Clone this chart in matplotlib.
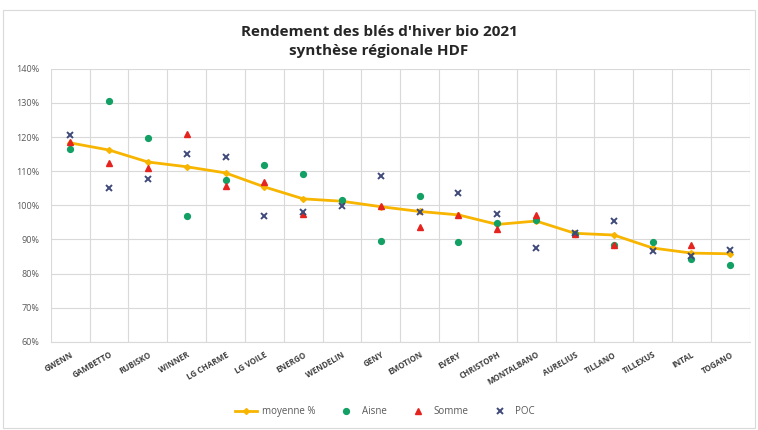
import numpy as np
import matplotlib
matplotlib.use("Agg")
import matplotlib.pyplot as plt
from matplotlib.patches import Rectangle
from matplotlib.ticker import FuncFormatter, MultipleLocator

# ----------------------------------------------------------------------
# data (% of regional mean)
# ----------------------------------------------------------------------
varieties = ["GWENN", "GAMBETTO", "RUBISKO", "WINNER", "LG CHARME", "LG VOILE",
             "ENERGO", "WENDELIN", "GENY", "EMOTION", "EVERY", "CHRISTOPH",
             "MONTALBANO", "AURELIUS", "TILLANO", "TILLEXUS", "INTAL", "TOGANO"]

moyenne = [118.3, 116.2, 112.7, 111.3, 109.5, 105.4, 101.9, 101.2, 99.6, 98.2,
           97.2, 94.4, 95.4, 91.8, 91.3, 87.5, 86.0, 85.8]
aisne = [116.5, 130.6, 119.8, 96.9, 107.5, 111.8, 109.2, 101.6, 89.6, 102.8,
         89.3, 94.8, 95.7, 91.7, 88.5, 89.3, 84.2, 82.5]
somme = [118.6, 112.4, 111.0, 120.9, 105.7, 106.9, 97.5, np.nan, 99.8, 93.7,
         97.2, 93.1, 97.2, 91.7, 88.4, np.nan, 88.3, np.nan]
poc = [120.6, 105.1, 107.7, 115.1, 114.2, 96.9, 98.1, 99.8, 108.6, 98.1,
       103.6, 97.5, 87.5, 91.9, 95.5, 86.6, 85.2, 86.9]

# ----------------------------------------------------------------------
# figure
# ----------------------------------------------------------------------
plt.rcParams['font.family'] = ['Open Sans', 'DejaVu Sans']

fig = plt.figure(figsize=(7.58, 4.30), dpi=100)
ax = fig.add_axes([0.067, 0.205, 0.922, 0.635])

x = np.arange(len(varieties))

ax.plot(x, moyenne, color="#F7B500", lw=2.0, marker="D", ms=3,
        label="moyenne %", zorder=3)
ax.plot(x, aisne, ls="none", marker="o", ms=4.2, color="#13A065",
        label="Aisne", zorder=4)
ax.plot(x, somme, ls="none", marker="^", ms=4.6, color="#E5231F",
        label="Somme", zorder=4)
ax.plot(x, poc, ls="none", marker="x", ms=4.2, mew=1.4, color="#3F4A78",
        label="POC", zorder=5)

ax.set_xlim(-0.5, len(varieties) - 0.5)
ax.set_ylim(60, 140)
ax.yaxis.set_major_locator(MultipleLocator(10))
ax.yaxis.set_major_formatter(FuncFormatter(lambda v, p: f"{v:.0f}%"))

ax.set_xticks(x)
ax.set_xticklabels(varieties, rotation=30, ha="right", rotation_mode="anchor",
                   fontsize=5.8, fontweight="bold", color="#404040")
ax.set_xticks(np.arange(-0.5, len(varieties), 1), minor=True)
ax.tick_params(axis="x", which="both", length=0, pad=6)
ax.tick_params(axis="y", length=0, labelsize=6.5, labelcolor="#595959", pad=8)

ax.grid(True, axis="y", which="major", color="#D9D9D9", lw=0.8)
ax.grid(True, axis="x", which="minor", color="#D9D9D9", lw=0.8)
ax.set_axisbelow(True)
for s in ["top", "right", "left"]:
    ax.spines[s].set_visible(False)
ax.spines["bottom"].set_color("#D9D9D9")

fig.text(0.5, 0.903, "Rendement des blés d'hiver bio 2021\nsynthèse régionale HDF",
         ha="center", va="center", fontsize=11, fontweight="bold",
         color="#262626", linespacing=1.45)

leg = fig.legend(loc="center", bbox_to_anchor=(0.508, 0.042), ncol=4,
                 frameon=False, fontsize=7, handlelength=2.2,
                 columnspacing=2.1, handletextpad=0.5)
for t in leg.get_texts():
    t.set_color("#595959")

fig.patches.append(Rectangle((0.004, 0.004), 0.992, 0.972, transform=fig.transFigure,
                             fill=False, edgecolor="#D9D9D9", lw=0.8))

fig.savefig("out.png", dpi=100)
